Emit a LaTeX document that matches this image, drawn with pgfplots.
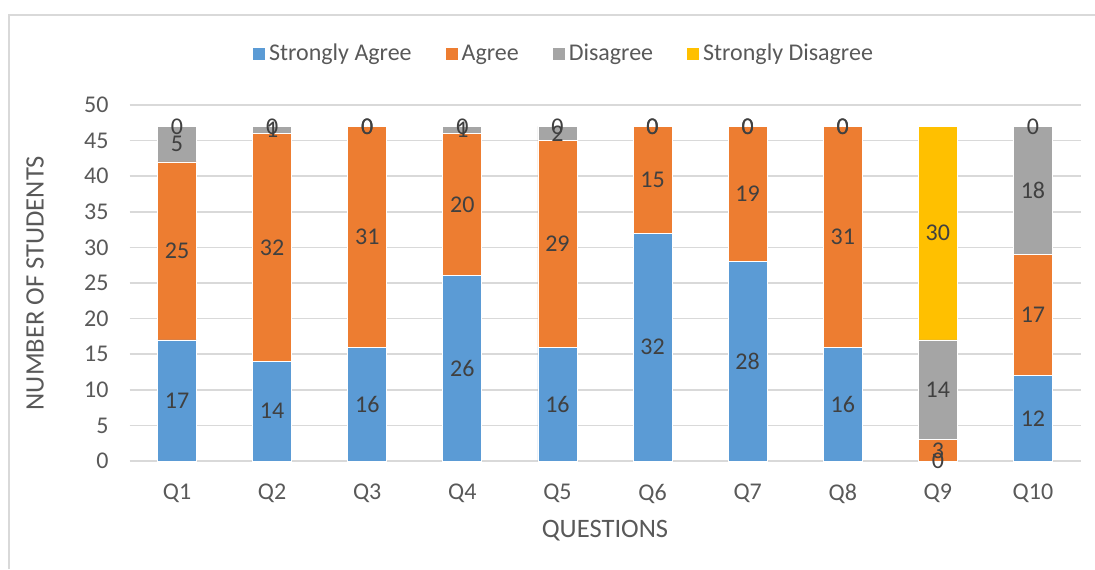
\documentclass[border=0pt]{standalone}
\usepackage{fontspec}
\setmainfont{Carlito}
\usepackage{pgfplots}
\pgfplotsset{compat=1.18}
\usepackage{pgfplotstable}
\definecolor{sa}{HTML}{5B9BD5}
\definecolor{ag}{HTML}{ED7D31}
\definecolor{di}{HTML}{A5A5A5}
\definecolor{sd}{HTML}{FFC000}
\definecolor{gridc}{HTML}{D9D9D9}
\definecolor{tickc}{HTML}{595959}
\definecolor{labc}{HTML}{404040}
\pgfplotsset{sqlegend/.style={legend image code/.code={\fill[##1,draw=none] (0pt,-3pt) rectangle (6pt,3pt);}},
  common/.style={at={(64.75pt,54pt)}, anchor=south west,
  scale only axis, width=475.5pt, height=178pt,
  xmin=-0.5, xmax=9.5, ymin=0, ymax=50}}
% values per question (Q1..Q10 at x = 0..9)
\pgfplotstableread{
x sa a d sd
0 17 25 5 0
1 14 32 1 0
2 16 31 0 0
3 26 20 1 0
4 16 29 2 0
5 32 15 0 0
6 28 19 0 0
7 16 31 0 0
8 0 3 14 30
9 12 17 18 0
}\data
% data labels: centre of each segment and its value
\pgfplotstableread{
x y lab
0 8.5 17
0 29.5 25
0 44.5 5
0 47 0
1 7 14
1 30 32
1 46.5 1
1 47 0
2 8 16
2 31.5 31
2 47 0
2 47 0
3 13 26
3 36 20
3 46.5 1
3 47 0
4 8 16
4 30.5 29
4 46 2
4 47 0
5 16 32
5 39.5 15
5 47 0
5 47 0
6 14 28
6 37.5 19
6 47 0
6 47 0
7 8 16
7 31.5 31
7 47 0
7 47 0
8 0 0
8 1.5 3
8 10 14
8 32 30
9 6 12
9 20.5 17
9 38 18
9 47 0
}\labels
\begin{document}
\begin{tikzpicture}
\path[use as bounding box] (0,0) rectangle (547.5pt,284.5pt);
\draw[color=gridc, line width=0.75pt] (4.5pt,0) -- (4.5pt,277pt) -- (547.5pt,277pt);
\begin{axis}[
  common,
  ybar stacked, bar width=19.5pt,
  xtick={0,...,9},
  xticklabels={Q1,Q2,Q3,Q4,Q5,Q6,Q7,Q8,Q9,Q10},
  ytick={0,5,...,50},
  axis line style={draw=none},
  major tick length=0pt,
  ymajorgrids, grid style={color=gridc, line width=0.75pt},
  tick label style={font=\fontsize{12}{14}\selectfont, text=tickc},
  yticklabel style={xshift=-7pt},
  xticklabel style={yshift=-8pt},
  /pgf/number format/assume math mode=true,
  xlabel={QUESTIONS}, ylabel={NUMBER OF STUDENTS},
  label style={font=\fontsize{13.3}{15}\selectfont, text=tickc},
  xlabel style={at={(axis description cs:0.5,-0.1966)}, anchor=center},
  ylabel style={at={(axis description cs:-0.0994,0.5)}, anchor=center},
  legend columns=4,
  legend style={at={(axis description cs:0.458,1.143)}, anchor=center, draw=none, fill=none,
    font=\fontsize{12}{14}\selectfont, text=tickc,
    /tikz/every even column/.append style={column sep=15pt}},
  every axis plot/.append style={draw=white, line width=0.4pt},
]
\addplot[fill=sa, sqlegend] table[x=x, y=sa] \data;
\addplot[fill=ag, sqlegend] table[x=x, y=a] \data;
\addplot[fill=di, sqlegend] table[x=x, y=d] \data;
\addplot[fill=sd, sqlegend] table[x=x, y=sd] \data;
\legend{Strongly Agree, Agree, Disagree, Strongly Disagree}
\end{axis}
\begin{axis}[common, hide axis, clip=false]
\addplot[only marks, mark=*, mark size=0pt, mark options={draw=none, fill=none},
  point meta=explicit symbolic,
  nodes near coords,
  every node near coord/.style={anchor=center, font=\fontsize{12}{14}\selectfont, text=labc, inner sep=0pt}]
  table[x=x, y=y, meta=lab] \labels;
\end{axis}
\end{tikzpicture}
\end{document}
